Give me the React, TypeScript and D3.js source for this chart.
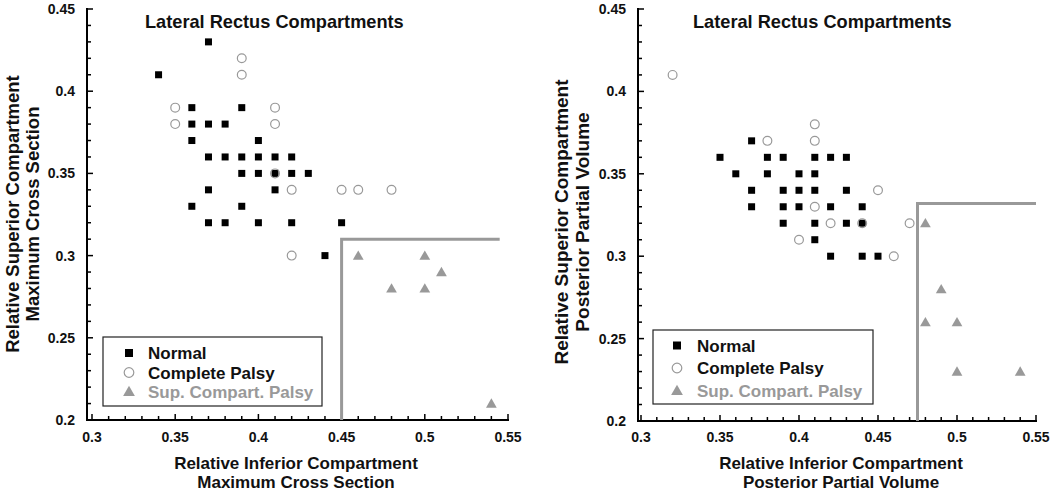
import React from "react";
import * as d3 from "d3";

// ---------- data ----------
const xTickValues = [0.3, 0.35, 0.4, 0.45, 0.5, 0.55];
const yTickValues = [0.2, 0.25, 0.3, 0.35, 0.4, 0.45];
const minorStep = 0.01;

const leftNormal: [number, number][] = [
  [0.34, 0.41], [0.37, 0.43], [0.36, 0.39], [0.39, 0.39], [0.36, 0.38], [0.37, 0.38],
  [0.38, 0.38], [0.36, 0.37], [0.40, 0.37], [0.37, 0.36], [0.38, 0.36], [0.39, 0.36],
  [0.40, 0.36], [0.41, 0.36], [0.42, 0.36], [0.39, 0.35], [0.40, 0.35], [0.41, 0.35],
  [0.42, 0.35], [0.43, 0.35], [0.37, 0.34], [0.41, 0.34], [0.36, 0.33], [0.39, 0.33],
  [0.37, 0.32], [0.38, 0.32], [0.40, 0.32], [0.42, 0.32], [0.45, 0.32], [0.44, 0.30],
];
const leftComplete: [number, number][] = [
  [0.39, 0.42], [0.39, 0.41], [0.35, 0.39], [0.41, 0.39], [0.35, 0.38], [0.41, 0.38],
  [0.41, 0.35], [0.42, 0.34], [0.45, 0.34], [0.46, 0.34], [0.48, 0.34], [0.42, 0.30],
];
const leftSup: [number, number][] = [
  [0.46, 0.30], [0.50, 0.30], [0.51, 0.29], [0.48, 0.28], [0.50, 0.28], [0.54, 0.21],
];
const leftThreshold = { x: 0.45, y: 0.31, xEnd: 0.545 };

const rightNormal: [number, number][] = [
  [0.37, 0.37], [0.35, 0.36], [0.38, 0.36], [0.39, 0.36], [0.41, 0.36], [0.42, 0.36],
  [0.43, 0.36], [0.36, 0.35], [0.38, 0.35], [0.40, 0.35], [0.41, 0.35], [0.37, 0.34],
  [0.39, 0.34], [0.40, 0.34], [0.41, 0.34], [0.43, 0.34], [0.37, 0.33], [0.39, 0.33],
  [0.40, 0.33], [0.42, 0.33], [0.44, 0.33], [0.39, 0.32], [0.41, 0.32], [0.43, 0.32],
  [0.44, 0.32], [0.41, 0.31], [0.42, 0.30], [0.44, 0.30], [0.45, 0.30],
];
const rightComplete: [number, number][] = [
  [0.32, 0.41], [0.41, 0.38], [0.41, 0.37], [0.38, 0.37], [0.45, 0.34], [0.41, 0.33],
  [0.42, 0.32], [0.44, 0.32], [0.47, 0.32], [0.40, 0.31], [0.46, 0.30],
];
const rightSup: [number, number][] = [
  [0.48, 0.32], [0.49, 0.28], [0.48, 0.26], [0.50, 0.26], [0.50, 0.23], [0.54, 0.23],
];
const rightThreshold = { x: 0.475, y: 0.332, xEnd: 0.55 };

const titleText = "Lateral Rectus Compartments";
const legendLabels = ["Normal", "Complete Palsy", "Sup. Compart. Palsy"];
const leftXTitle = ["Relative Inferior Compartment", "Maximum Cross Section"];
const leftYTitle = ["Relative Superior Compartment", "Maximum Cross Section"];
const rightXTitle = ["Relative Inferior Compartment", "Posterior Partial Volume"];
const rightYTitle = ["Relative Superior Compartment", "Posterior Partial Volume"];

// ---------- styles ----------
const FONT = "'Liberation Sans', Arial, Helvetica, sans-serif";
const GRAY = "#999";

type PanelProps = {
  xr: [number, number];
  yr: [number, number];
  axisX: number;
  axisY: number;
  normal: [number, number][];
  complete: [number, number][];
  sup: [number, number][];
  threshold: { x: number; y: number; xEnd: number };
  titleX: number;
  legend: { x0: number; y0: number; x1: number; y1: number; mx: number; tx: number; rows: number[] };
  xTitle: string[];
  xTitleX: number;
  yTitle: string[];
  yTitleX: number;
  yTitleY: number;
  yTitleSize: number;
};

function Panel(p: PanelProps) {
  const x = d3.scaleLinear().domain([0.3, 0.55]).range(p.xr);
  const y = d3.scaleLinear().domain([0.2, 0.45]).range(p.yr);
  const minorX = d3.range(0.3, 0.5501, minorStep).map((v) => +v.toFixed(2));
  const minorY = d3.range(0.2, 0.4501, minorStep).map((v) => +v.toFixed(2));
  const isMajor = (v: number) => Math.abs(v * 20 - Math.round(v * 20)) < 1e-6;
  const tri = d3.symbol().type(d3.symbolTriangle).size(50)();
  const legTri = d3.symbol().type(d3.symbolTriangle).size(60)();
  const L = p.legend;
  return (
    <g fontFamily={FONT} fontWeight="bold">
      {/* title */}
      <text x={p.titleX} y={28} fontSize={18.2} fill="#111">{titleText}</text>
      {/* axes */}
      <line x1={p.axisX} x2={p.axisX} y1={y(0.45) - 1} y2={p.axisY + 1} stroke="#000" strokeWidth={2} />
      <line x1={p.axisX - 1} x2={x(0.55) + 1} y1={p.axisY} y2={p.axisY} stroke="#000" strokeWidth={2} />
      {minorY.map((v) => (
        <line key={"yt" + v} x1={p.axisX} x2={p.axisX + (isMajor(v) ? 6 : 4)} y1={y(v)} y2={y(v)} stroke="#000" strokeWidth={1.5} />
      ))}
      {minorX.map((v) => (
        <line key={"xt" + v} x1={x(v)} x2={x(v)} y1={p.axisY} y2={p.axisY - (isMajor(v) ? 6 : 4)} stroke="#000" strokeWidth={1.5} />
      ))}
      {yTickValues.map((v) => (
        <text key={"yl" + v} x={p.axisX - 12} y={y(v)} dy="0.35em" textAnchor="end" fontSize={14} fill="#111">
          {d3.format("")(v)}
        </text>
      ))}
      {xTickValues.map((v) => (
        <text key={"xl" + v} x={x(v)} y={442} textAnchor="middle" fontSize={14} fill="#111">
          {d3.format("")(v)}
        </text>
      ))}
      {/* axis titles */}
      <text x={p.xTitleX} y={469} textAnchor="middle" fontSize={17} fill="#111">{p.xTitle[0]}</text>
      <text x={p.xTitleX} y={488} textAnchor="middle" fontSize={17} fill="#111">{p.xTitle[1]}</text>
      <g transform={`translate(${p.yTitleX},${p.yTitleY}) rotate(-90)`}>
        <text x={0} y={0} textAnchor="middle" fontSize={p.yTitleSize} fill="#111">{p.yTitle[0]}</text>
        <text x={0} y={20.5} textAnchor="middle" fontSize={p.yTitleSize} fill="#111">{p.yTitle[1]}</text>
      </g>
      {/* threshold */}
      <path
        d={`M${x(p.threshold.x)},${p.axisY}V${y(p.threshold.y)}H${x(p.threshold.xEnd)}`}
        fill="none"
        stroke={GRAY}
        strokeWidth={3}
      />
      {/* points */}
      {p.normal.map((d, i) => (
        <rect key={"n" + i} x={x(d[0]) - 3.5} y={y(d[1]) - 3.5} width={7} height={7} fill="#000" />
      ))}
      {p.complete.map((d, i) => (
        <circle key={"c" + i} cx={x(d[0])} cy={y(d[1])} r={4.4} fill="none" stroke={GRAY} strokeWidth={1.2} />
      ))}
      {p.sup.map((d, i) => (
        <path key={"s" + i} d={tri!} transform={`translate(${x(d[0])},${y(d[1]) + 1})`} fill={GRAY} />
      ))}
      {/* legend */}
      <rect x={L.x0} y={L.y0} width={L.x1 - L.x0} height={L.y1 - L.y0} fill="#fff" stroke="#222" strokeWidth={1.2} />
      <rect x={L.mx - 4} y={L.rows[0] - 4} width={8} height={8} fill="#000" />
      <circle cx={L.mx} cy={L.rows[1]} r={4.8} fill="none" stroke={GRAY} strokeWidth={1.2} />
      <path d={legTri!} transform={`translate(${L.mx},${L.rows[2] + 1})`} fill={GRAY} />
      {legendLabels.map((t, i) => (
        <text key={t} x={L.tx} y={L.rows[i]} dy="0.36em" fontSize={17} fill={i === 2 ? GRAY : "#111"}>
          {t}
        </text>
      ))}
    </g>
  );
}

export default function App() {
  return (
    <svg width={1050} height={491} style={{ position: "absolute", left: 0, top: 0, background: "#fff" }}>
      <rect width={1050} height={491} fill="#fff" />
      <Panel
        xr={[92, 508]}
        yr={[420, 9]}
        axisX={87}
        axisY={420}
        normal={leftNormal}
        complete={leftComplete}
        sup={leftSup}
        threshold={leftThreshold}
        titleX={145}
        legend={{ x0: 103, y0: 337, x1: 322, y1: 406, mx: 129, tx: 148, rows: [353, 372.5, 391.5] }}
        xTitle={leftXTitle}
        xTitleX={296}
        yTitle={leftYTitle}
        yTitleX={18.5}
        yTitleY={214}
        yTitleSize={18.5}
      />
      <Panel
        xr={[641, 1036]}
        yr={[421, 9]}
        axisX={638}
        axisY={421}
        normal={rightNormal}
        complete={rightComplete}
        sup={rightSup}
        threshold={rightThreshold}
        titleX={693}
        legend={{ x0: 653, y0: 330, x1: 873, y1: 404, mx: 677, tx: 697, rows: [345.5, 368, 390.5] }}
        xTitle={rightXTitle}
        xTitleX={841}
        yTitle={rightYTitle}
        yTitleX={568}
        yTitleY={222}
        yTitleSize={19}
      />
    </svg>
  );
}
